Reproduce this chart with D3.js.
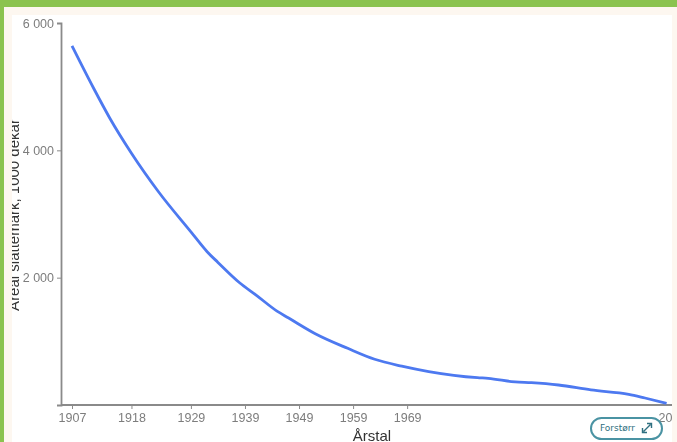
<!DOCTYPE html>
<html>
<head>
<meta charset="utf-8">
<script src="https://cdnjs.cloudflare.com/ajax/libs/d3/7.8.5/d3.min.js"></script>
<style>
  html, body { margin: 0; padding: 0; background: #fdf7f0; }
  body { width: 677px; height: 442px; overflow: hidden; position: relative; font-family: "Liberation Sans", Arial, sans-serif; }
  #top { position: absolute; left: 0; top: 0; width: 677px; height: 7px; background: #8bc34f; }
  #left { position: absolute; left: 0; top: 0; width: 4px; height: 442px; background: #8bc34f; }
  #chart { position: absolute; left: 12px; top: 15px; filter: blur(0.4px); }
  #btn { position: absolute; left: 590px; top: 417px; width: 69px; height: 19px; border: 2px solid #4a93a3; border-radius: 12px; background: #fff;
    font: 9px "DejaVu Sans", sans-serif; color: #2f6f80; }
  #btn span { position: absolute; left: 8px; top: 4px; }
  #btn svg { position: absolute; left: 49px; top: 3px; }
</style>
</head>
<body>
<div id="top"></div>
<div id="left"></div>
<div id="chart"></div>
<div id="btn"><span>Forstørr</span><svg width="12" height="12"><path d="M2.5 9.5L9.5 2.5M6 1.5H10.5V6M1.5 6V10.5H6" fill="none" stroke="#2f6f80" stroke-width="1.4"/></svg></div>
<script>
/* Data */
const years = [1907, 1911, 1914, 1918, 1923, 1929, 1932, 1934, 1938, 1941, 1945, 1947, 1952, 1958, 1963, 1968, 1973, 1982, 1984, 1989, 1992, 1997, 2003, 2010, 2013, 2017];
const areal = [5640, 4975, 4505, 3955, 3350, 2720, 2408, 2240, 1920, 1730, 1470, 1370, 1120, 890, 718, 610, 525, 429, 419, 362, 350, 314, 236, 168, 110, 27];
const xTicks = [1907, 1918, 1929, 1939, 1949, 1959, 1969, 2018];
const yTicks = [2000, 4000, 6000];

/* Constants */
const w = 660;
const h = 427;

/* SVG */
const svg = d3.select("#chart")
  .append("svg")
  .attr("width", w)
  .attr("height", h)
  .style("background", "#fff")
  .style("display", "block");

/* Scales */
const xScale = d3.scaleLinear()
  .domain([1907, 2018])
  .range([60, 660]);

const yScale = d3.scaleLinear()
  .domain([0, 6000])
  .range([390, 8]);

/* Axis */
const xAxis = d3.axisBottom(xScale)
  .tickValues(xTicks)
  .tickFormat(d3.format("d"))
  .tickSize(4)
  .tickPadding(4);

const yAxis = d3.axisLeft(yScale)
  .tickValues(yTicks)
  .tickFormat(d => d3.format(",")(d).replace(",", " "))
  .tickSize(4)
  .tickPadding(3);

let gx = svg.append("g")
  .attr("transform", "translate(0,390)")
  .call(xAxis);

let gy = svg.append("g")
  .attr("transform", "translate(49,0)")
  .call(yAxis);

svg.selectAll(".domain").attr("stroke", "#8a8a8a").attr("stroke-width", 1.8);
svg.selectAll(".tick line").attr("stroke", "#8a8a8a");
svg.selectAll(".tick text")
  .attr("fill", "#7d7d7d")
  .style("font-family", '"Liberation Sans", Arial, sans-serif')
  .style("font-size", "12.5px");

// x axis line starts at the y axis, not at the first year
gx.select(".domain").attr("d", "M49,0H660");

/* Line */
const line = d3.line()
  .x((d, i) => xScale(years[i]))
  .y(d => yScale(d))
  .curve(d3.curveMonotoneX);

svg.append("path")
  .datum(areal)
  .attr("d", line)
  .attr("fill", "none")
  .attr("stroke", "#4d79f0")
  .attr("stroke-width", 2.8);

/* Labels */
svg.append("text")
  .attr("x", 360)
  .attr("y", 426)
  .attr("text-anchor", "middle")
  .attr("fill", "#333")
  .style("font-size", "15px")
  .text("Årstal");

svg.append("text")
  .attr("transform", "translate(6.5,200) rotate(-90)")
  .attr("text-anchor", "middle")
  .attr("fill", "#333")
  .style("font-size", "15px")
  .text("Areal slåttemark, 1000 dekar");
</script>
</body>
</html>
